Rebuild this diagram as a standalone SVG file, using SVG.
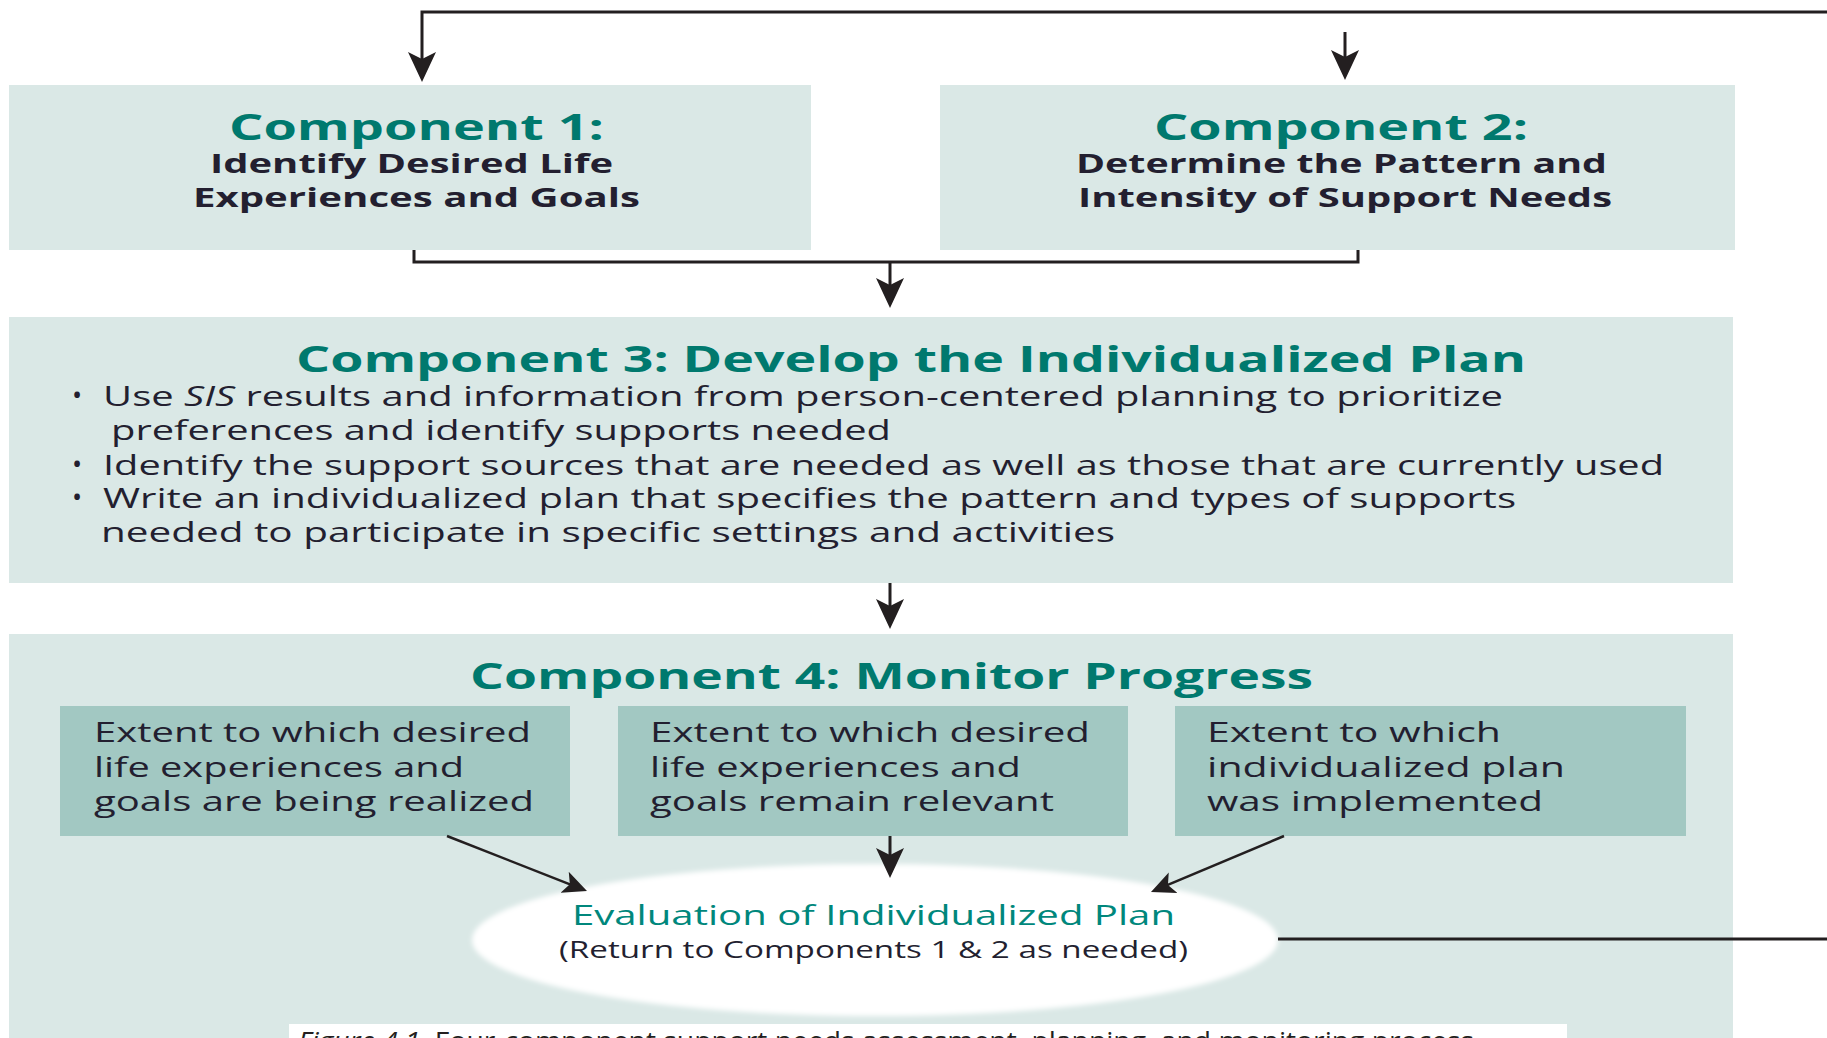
<svg xmlns="http://www.w3.org/2000/svg" width="1827" height="1038" viewBox="0 0 1827 1038">
<style>
.box{fill:#dae8e6}
.sub{fill:#a2c8c2}
.title{font-family:"Open Sans","Liberation Sans",sans-serif;font-weight:700;font-size:36px;fill:#00796e}
.subt{font-family:"Open Sans","Liberation Sans",sans-serif;font-weight:700;font-size:27px;fill:#231f30}
.body{font-family:"Open Sans","Liberation Sans",sans-serif;font-weight:400;font-size:27px;fill:#231f30}
.st{font-family:"Open Sans","Liberation Sans",sans-serif;font-weight:400;font-size:28px;fill:#231f30}
.ev{font-family:"Open Sans","Liberation Sans",sans-serif;font-weight:400;font-size:27px;fill:#00877c}
.par{font-family:"Open Sans","Liberation Sans",sans-serif;font-weight:400;font-size:23px;fill:#231f30}
.cap{font-family:"Open Sans","Liberation Sans",sans-serif;font-weight:400;font-size:25px;fill:#231f20}
.ln{fill:none;stroke:#231f20;stroke-width:3}
.lnd{fill:none;stroke:#231f20;stroke-width:2.5}
</style>
<defs>
<marker id="ah" viewBox="0 0 30 30" refX="8" refY="15" markerWidth="30" markerHeight="30" markerUnits="userSpaceOnUse" orient="auto"><path d="M0,1 L30,15 L0,29 L7,15 Z" fill="#231f20"/></marker>
<marker id="ahs" viewBox="0 0 30 30" refX="8" refY="15" markerWidth="24" markerHeight="24" markerUnits="userSpaceOnUse" orient="auto"><path d="M0,1 L30,15 L0,29 L7,15 Z" fill="#231f20"/></marker>
<filter id="soft" x="-5%" y="-10%" width="110%" height="120%"><feGaussianBlur stdDeviation="2.5"/></filter>
</defs>
<rect width="1827" height="1038" fill="#ffffff"/>

<g id="component1">
<rect class="box" x="9" y="85" width="802" height="165"/>
<text class="title" x="229" y="140" textLength="375" lengthAdjust="spacingAndGlyphs">Component 1:</text>
<text class="subt" x="210" y="173" textLength="403" lengthAdjust="spacingAndGlyphs">Identify Desired Life</text>
<text class="subt" x="193" y="207" textLength="447" lengthAdjust="spacingAndGlyphs">Experiences and Goals</text>
</g>

<g id="component2">
<rect class="box" x="940" y="85" width="795" height="165"/>
<text class="title" x="1154" y="140" textLength="374" lengthAdjust="spacingAndGlyphs">Component 2:</text>
<text class="subt" x="1076" y="173" textLength="531" lengthAdjust="spacingAndGlyphs">Determine the Pattern and</text>
<text class="subt" x="1078" y="207" textLength="534" lengthAdjust="spacingAndGlyphs">Intensity of Support Needs</text>
</g>

<g id="component3">
<rect class="box" x="9" y="317" width="1724" height="266"/>
<text class="title" x="296" y="372" textLength="1230" lengthAdjust="spacingAndGlyphs">Component 3: Develop the Individualized Plan</text>
<text class="body" x="72" y="405" font-size="20">•</text>
<text class="body" x="103" y="406" textLength="1400" lengthAdjust="spacingAndGlyphs">Use <tspan font-style="italic">SIS</tspan> results and information from person-centered planning to prioritize</text>
<text class="body" x="111" y="440" textLength="780" lengthAdjust="spacingAndGlyphs">preferences and identify supports needed</text>
<text class="body" x="72" y="474" font-size="20">•</text>
<text class="body" x="103" y="475" textLength="1561" lengthAdjust="spacingAndGlyphs">Identify the support sources that are needed as well as those that are currently used</text>
<text class="body" x="72" y="507" font-size="20">•</text>
<text class="body" x="103" y="508" textLength="1413" lengthAdjust="spacingAndGlyphs">Write an individualized plan that specifies the pattern and types of supports</text>
<text class="body" x="101" y="542" textLength="1014" lengthAdjust="spacingAndGlyphs">needed to participate in specific settings and activities</text>
</g>

<g id="component4">
<rect class="box" x="9" y="634" width="1724" height="410"/>
<text class="title" x="470" y="689" textLength="843" lengthAdjust="spacingAndGlyphs">Component 4: Monitor Progress</text>
</g>

<g id="measure-realized">
<rect class="sub" x="60" y="706" width="510" height="130"/>
<text class="st" x="94" y="742" textLength="437" lengthAdjust="spacingAndGlyphs">Extent to which desired</text>
<text class="st" x="94" y="777" textLength="370" lengthAdjust="spacingAndGlyphs">life experiences and</text>
<text class="st" x="94" y="811" textLength="440" lengthAdjust="spacingAndGlyphs">goals are being realized</text>
</g>

<g id="measure-relevant">
<rect class="sub" x="618" y="706" width="510" height="130"/>
<text class="st" x="650" y="742" textLength="440" lengthAdjust="spacingAndGlyphs">Extent to which desired</text>
<text class="st" x="650" y="777" textLength="371" lengthAdjust="spacingAndGlyphs">life experiences and</text>
<text class="st" x="650" y="811" textLength="404" lengthAdjust="spacingAndGlyphs">goals remain relevant</text>
</g>

<g id="measure-implemented">
<rect class="sub" x="1175" y="706" width="511" height="130"/>
<text class="st" x="1207" y="742" textLength="294" lengthAdjust="spacingAndGlyphs">Extent to which</text>
<text class="st" x="1207" y="777" textLength="358" lengthAdjust="spacingAndGlyphs">individualized plan</text>
<text class="st" x="1207" y="811" textLength="336" lengthAdjust="spacingAndGlyphs">was implemented</text>
</g>

<g id="evaluation">
<ellipse cx="875" cy="940" rx="403" ry="76" fill="#ffffff" filter="url(#soft)"/>
<text class="ev" x="572" y="925" textLength="603" lengthAdjust="spacingAndGlyphs">Evaluation of Individualized Plan</text>
<text class="par" x="559" y="958" textLength="629" lengthAdjust="spacingAndGlyphs">(Return to Components 1 &amp; 2 as needed)</text>
</g>

<g id="caption">
<rect x="289" y="1024" width="1278" height="20" fill="#ffffff"/>
<text class="cap" x="298" y="1050" textLength="1176" lengthAdjust="spacingAndGlyphs"><tspan font-style="italic">Figure 4.1.</tspan> Four-component support needs assessment, planning, and monitoring process</text>
</g>

<g id="connectors">
<path class="ln" d="M1827,12 H422 V60" marker-end="url(#ah)"/>
<path class="ln" d="M1345,32 V58" marker-end="url(#ah)"/>
<path class="ln" d="M414,250 V262 H1358 V250"/>
<path class="ln" d="M890,262 V286" marker-end="url(#ah)"/>
<path class="ln" d="M890,583 V607" marker-end="url(#ah)"/>
<path class="ln" d="M890,836 V856" marker-end="url(#ah)"/>
<path class="lnd" d="M447,836 L570.6,884.6" marker-end="url(#ahs)"/>
<path class="lnd" d="M1284,836 L1167.2,885.2" marker-end="url(#ahs)"/>
<path class="ln" d="M1278,939 H1827"/>
</g>
</svg>
